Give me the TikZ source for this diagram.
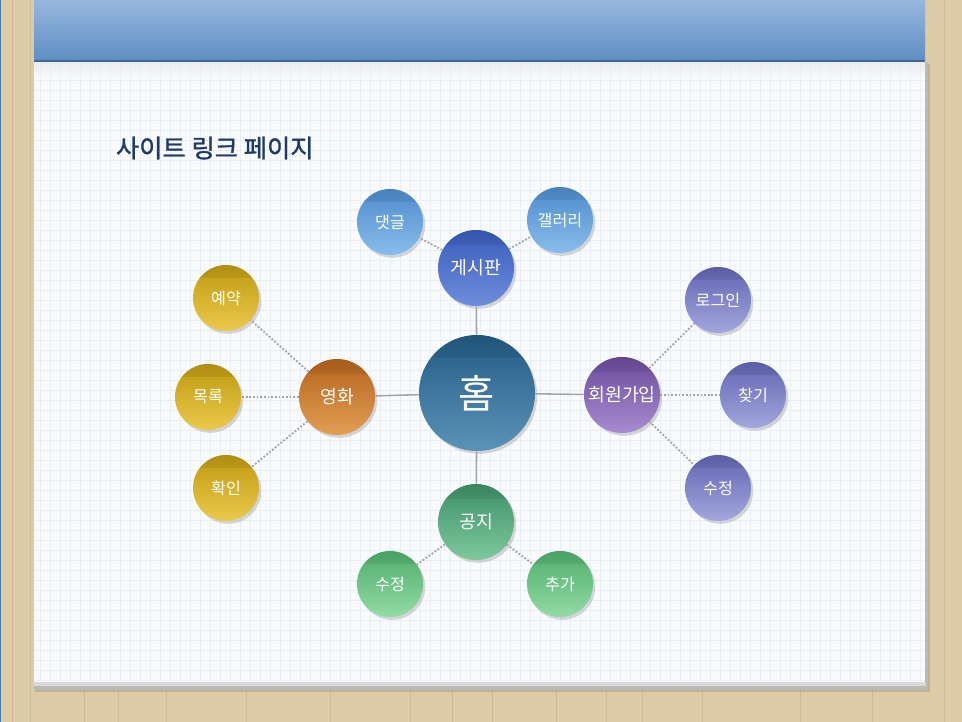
\documentclass[tikz,border=0pt]{standalone}
\usepackage{fontspec}
\newfontfamily\krfont{Noto Sans CJK KR}
\newfontfamily\krtitle[FakeBold=1.2]{Noto Sans CJK KR}
\usepackage{tikz}
\usetikzlibrary{shadows,calc}

\definecolor{wood}{HTML}{DDCAA6}
\definecolor{woodline}{HTML}{CFBA94}
\definecolor{bandtop}{HTML}{97B7DD}
\definecolor{bandbot}{HTML}{5E8EC3}
\definecolor{bandedge}{HTML}{3E6898}
\definecolor{slideblue}{HTML}{4A78B0}
\definecolor{paperc}{HTML}{F9FAFC}
\definecolor{gridc}{HTML}{E9EEF6}
\definecolor{titlec}{HTML}{1F3A64}
\definecolor{linkc}{HTML}{A4A4A4}
\definecolor{homeT}{HTML}{245B84}
\definecolor{homeB}{HTML}{5A93B8}
\definecolor{boardT}{HTML}{3A5CBC}
\definecolor{boardB}{HTML}{6E8EDB}
\definecolor{skyT}{HTML}{4F8CCD}
\definecolor{skyB}{HTML}{88BDEC}
\definecolor{movieT}{HTML}{B5641C}
\definecolor{movieB}{HTML}{E39E55}
\definecolor{goldT}{HTML}{BF9A10}
\definecolor{goldB}{HTML}{EBC94C}
\definecolor{joinT}{HTML}{6A4C9C}
\definecolor{joinB}{HTML}{A88CD0}
\definecolor{lilacT}{HTML}{6365B3}
\definecolor{lilacB}{HTML}{A3A7DC}
\definecolor{noticeT}{HTML}{3F9168}
\definecolor{noticeB}{HTML}{7EC89E}
\definecolor{mintT}{HTML}{4FAE6C}
\definecolor{mintB}{HTML}{93DBA5}

\begin{document}
\begin{tikzpicture}[
  x=0.025cm,y=-0.025cm,
  font=\krfont,
  ball/.style={circle, inner sep=0pt, text=white,
    drop shadow={shadow xshift=1.6pt, shadow yshift=-2pt, opacity=0.3},
    path picture={\fill[black,opacity=0.07] (path picture bounding box.north west) rectangle
      ($(path picture bounding box.north east)!0.2!(path picture bounding box.south east)$);}},
  hub/.style={ball, minimum size=2.9cm, font=\krfont\fontsize{28}{30}\selectfont},
  mid/.style={ball, minimum size=1.9cm, font=\krfont\fontsize{13}{15}\selectfont},
  leaf/.style={ball, minimum size=1.65cm, font=\krfont\fontsize{11.5}{13}\selectfont},
  link/.style={draw=linkc, line width=1.1pt},
  dlink/.style={draw=linkc, line width=1.3pt, dash pattern=on 1.3pt off 1.3pt},
  gridline/.style={draw=gridc, line width=0.4pt},
]
\useasboundingbox (0,0) rectangle (962,722);

%% ---------- DESK AND NOTEPAD ----------
\fill[wood] (0,0) rectangle (962,722);
\foreach \px in {12,30,84,118,166,246,330,410,452,492,556,606,642,702,800,872,944}
  \draw[woodline, line width=0.4pt] (\px,0) -- (\px,722);
\fill[slideblue] (0,0) rectangle (1.5,722);
\fill[black, opacity=0.12] (35,64) rectangle (930,692);
\fill[gray!55] (34,62) rectangle (928,690);
\fill[gray!30] (34,682) rectangle (926,686);
\fill[paperc] (34,62) rectangle (925,682);
\foreach \gx in {40,50,...,920}
  \draw[gridline] (\gx,62) -- (\gx,682);
\foreach \gy in {70,80,...,680}
  \draw[gridline] (34,\gy) -- (925,\gy);
\shade[top color=black!12, bottom color=paperc, opacity=0.5] (34,62) rectangle (925,78);
\shade[top color=bandtop, bottom color=bandbot] (34,0) rectangle (925,61);
\draw[bandedge, line width=1pt] (34,61) -- (925,61);

\node[anchor=west, text=titlec, font=\krtitle\fontsize{18}{21}\selectfont] (title) at (111,148) {사이트 링크 페이지};

%% ---------- HUB AND BRANCHES ----------
\node[hub, top color=homeT, bottom color=homeB] (home) at (477,393) {홈};
\node[mid, top color=boardT, bottom color=boardB] (board) at (476,268) {게시판};
\node[mid, top color=movieT, bottom color=movieB] (movie) at (337,397) {영화};
\node[mid, top color=joinT, bottom color=joinB] (join) at (622,395) {회원가입};
\node[mid, top color=noticeT, bottom color=noticeB] (notice) at (476,522) {공지};

%% ---------- LEAVES ----------
\node[leaf, top color=skyT, bottom color=skyB] (reply) at (390,222) {댓글};
\node[leaf, top color=skyT, bottom color=skyB] (gallery) at (560,220) {갤러리};
\node[leaf, top color=goldT, bottom color=goldB] (reserve) at (226,298) {예약};
\node[leaf, top color=goldT, bottom color=goldB] (list) at (208,397) {목록};
\node[leaf, top color=goldT, bottom color=goldB] (check) at (226,488) {확인};
\node[leaf, top color=lilacT, bottom color=lilacB] (login) at (718,300) {로그인};
\node[leaf, top color=lilacT, bottom color=lilacB] (find) at (753,395) {찾기};
\node[leaf, top color=lilacT, bottom color=lilacB] (edit) at (718,488) {수정};
\node[leaf, top color=mintT, bottom color=mintB] (nedit) at (390,584) {수정};
\node[leaf, top color=mintT, bottom color=mintB] (add) at (560,584) {추가};

%% ---------- CONNECTORS ----------
\draw[link] (home) -- (board);
\draw[link] (home) -- (movie);
\draw[link] (home) -- (join);
\draw[link] (home) -- (notice);
\draw[dlink] (board) -- (reply);
\draw[dlink] (board) -- (gallery);
\draw[dlink] (movie) -- (reserve);
\draw[dlink] (movie) -- (list);
\draw[dlink] (movie) -- (check);
\draw[dlink] (join) -- (login);
\draw[dlink] (join) -- (find);
\draw[dlink] (join) -- (edit);
\draw[dlink] (notice) -- (nedit);
\draw[dlink] (notice) -- (add);
\end{tikzpicture}
\end{document}
